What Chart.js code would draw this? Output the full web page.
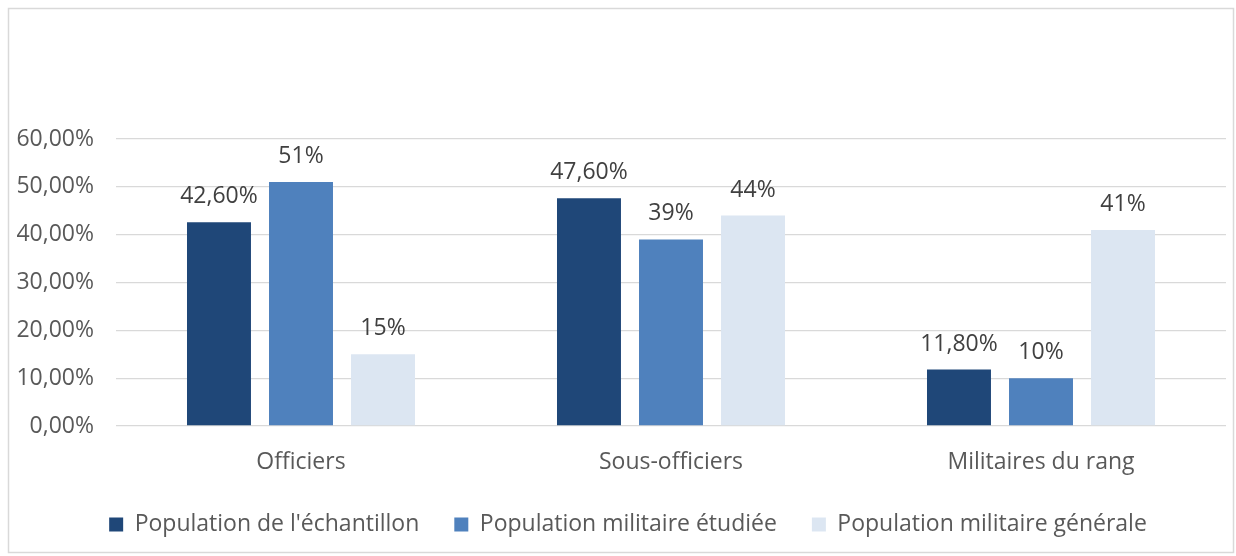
<!DOCTYPE html>
<html>
<head>
<meta charset="utf-8">
<script src="https://cdn.jsdelivr.net/npm/chart.js@4/dist/chart.umd.min.js"></script>
<style>
  html, body { margin: 0; padding: 0; background: #fff; }
  #wrap { position: absolute; left: 0; top: 0; width: 1236px; height: 556px; }
</style>
</head>
<body>
<div id="wrap"><canvas id="chart"></canvas></div>
<script>
const categories = ["Officiers", "Sous-officiers", "Militaires du rang"];
const seriesNames = ["Population de l'échantillon", "Population militaire étudiée", "Population militaire générale"];
const echantillon = [0.426, 0.476, 0.118];
const etudiee = [0.51, 0.39, 0.10];
const generale = [0.15, 0.44, 0.41];
const echantillonLabels = ["42,60%", "47,60%", "11,80%"];
const etudieeLabels = ["51%", "39%", "10%"];
const generaleLabels = ["15%", "44%", "41%"];
const yTicks = [0, 0.1, 0.2, 0.3, 0.4, 0.5, 0.6];

const colors = ["#1f4778", "#4f81bd", "#dce6f2"];
const textColor = "#595959";
const fontFamily = "'Open Sans', sans-serif";
const fontSize = 23;

const valueLabels = [echantillonLabels, etudieeLabels, generaleLabels];

// etiquettes de valeur au-dessus des barres
const barLabels = {
  id: "barLabels",
  afterDatasetsDraw(chart) {
    const ctx = chart.ctx;
    ctx.save();
    ctx.font = fontSize + "px " + fontFamily;
    ctx.fillStyle = "#404040";
    ctx.textAlign = "center";
    ctx.textBaseline = "alphabetic";
    chart.data.datasets.forEach((ds, i) => {
      chart.getDatasetMeta(i).data.forEach((bar, j) => {
        ctx.fillText(valueLabels[i][j], bar.x, bar.y - 19);
      });
    });
    ctx.restore();
  }
};

const frame = {
  id: "frame",
  beforeDraw(chart) {
    const ctx = chart.ctx;
    ctx.save();
    ctx.strokeStyle = "#d9d9d9";
    ctx.lineWidth = 1.5;
    ctx.strokeRect(8.5, 8.5, 1225, 544);
    ctx.restore();
  }
};

// la legende est un peu decalee vers la droite dans l'original
const legendShift = {
  id: "legendShift",
  afterLayout(chart) {
    chart.legend.left += 10;
    chart.legend.right += 10;
  }
};

new Chart(document.getElementById("chart"), {
  type: "bar",
  data: {
    labels: categories,
    datasets: [
      { label: seriesNames[0], data: echantillon, backgroundColor: colors[0] },
      { label: seriesNames[1], data: etudiee, backgroundColor: colors[1] },
      { label: seriesNames[2], data: generale, backgroundColor: colors[2] }
    ]
  },
  options: {
    responsive: true,
    maintainAspectRatio: false,
    animation: false,
    layout: { padding: { top: 139, right: 10, left: 10, bottom: 10 } },
    datasets: { bar: { categoryPercentage: 0.665, barPercentage: 0.78 } },
    scales: {
      x: {
        grid: { display: false, drawTicks: false },
        border: { display: false },
        afterFit(scale) { scale.height = 52; },
        ticks: { color: textColor, font: { family: fontFamily, size: fontSize }, padding: 23 }
      },
      y: {
        min: 0,
        max: 0.6,
        afterBuildTicks(scale) { scale.ticks = yTicks.map(v => ({ value: v })); },
        afterFit(scale) { scale.width = 106; },
        grid: { color: "#d9d9d9", lineWidth: 1.3, drawTicks: false },
        border: { display: false },
        ticks: {
          color: textColor,
          font: { family: fontFamily, size: fontSize },
          padding: 22,
          callback: v => (v * 100).toFixed(2).replace(".", ",") + "%"
        }
      }
    },
    plugins: {
      legend: {
        position: "bottom",
        labels: {
          color: textColor,
          font: { family: fontFamily, size: fontSize },
          boxWidth: 14,
          boxHeight: 14,
          padding: 35
        }
      },
      tooltip: { enabled: false }
    }
  },
  plugins: [frame, barLabels, legendShift]
});
</script>
</body>
</html>
